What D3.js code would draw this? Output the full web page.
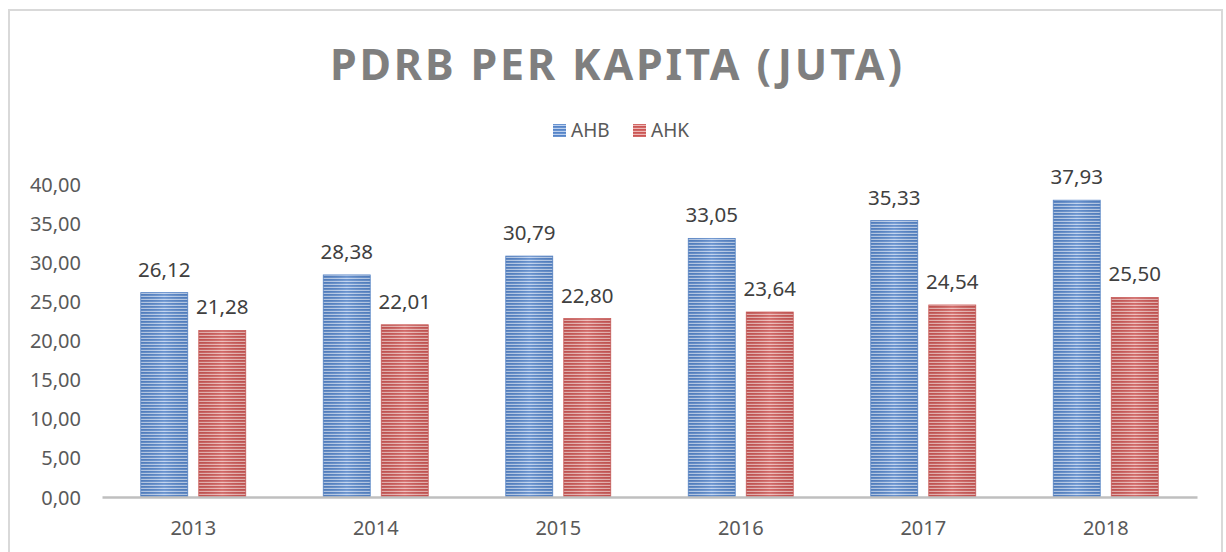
<!DOCTYPE html>
<html>
<head>
<meta charset="utf-8">
<script src="https://cdn.jsdelivr.net/npm/d3@7/dist/d3.min.js"></script>
<style>
  html, body { margin: 0; padding: 0; background: #fff; }
  svg { display: block; font-family: "Noto Sans", "Open Sans", sans-serif; }
</style>
</head>
<body>
<svg id="chart" width="1226" height="552"></svg>
<script>
const categories = ["2013", "2014", "2015", "2016", "2017", "2018"];
const seriesNames = ["AHB", "AHK"];
const ahb = [26.12, 28.38, 30.79, 33.05, 35.33, 37.93];
const ahk = [21.28, 22.01, 22.80, 23.64, 24.54, 25.50];
const yTicks = [0, 5, 10, 15, 20, 25, 30, 35, 40];
const titleText = "PDRB PER KAPITA (JUTA)";

const seriesValues = { AHB: ahb, AHK: ahk };
const colors = {
  AHB: { dark: "#5584c8", light: "#bcd0ee", edge: "#5a87c9" },
  AHK: { dark: "#cb5654", light: "#edb8b6", edge: "#cd5f5c" }
};

const svg = d3.select("#chart");
const fmt = v => v.toFixed(2).replace(".", ",");

// patterns
const defs = svg.append("defs");
seriesNames.forEach(s => {
  const p = defs.append("pattern")
    .attr("id", "pat-" + s)
    .attr("patternUnits", "userSpaceOnUse")
    .attr("width", 4).attr("height", 3);
  p.append("rect").attr("width", 4).attr("height", 3).attr("fill", colors[s].light);
  p.append("rect").attr("width", 4).attr("height", 1.8).attr("fill", colors[s].dark);
  const g = defs.append("linearGradient").attr("id", "sh-" + s)
    .attr("x1", "0").attr("x2", "1").attr("y1", "0").attr("y2", "0");
  g.append("stop").attr("offset", "0").attr("stop-color", "#000").attr("stop-opacity", 0.06);
  g.append("stop").attr("offset", "0.5").attr("stop-color", "#fff").attr("stop-opacity", 0.12);
  g.append("stop").attr("offset", "1").attr("stop-color", "#000").attr("stop-opacity", 0.06);
});

// border
svg.append("rect")
  .attr("x", 9).attr("y", 10).attr("width", 1213).attr("height", 560)
  .attr("fill", "none").attr("stroke", "#d9d9d9").attr("stroke-width", 2);

// title
svg.append("text")
  .attr("x", 330).attr("y", 80)
  .attr("textLength", 572).attr("lengthAdjust", "spacing")
  .attr("font-size", 43).attr("font-weight", "bold")
  .attr("fill", "#7f7f7f")
  .text(titleText);

// scales
const x0 = d3.scaleBand().domain(categories).range([102, 1197]).paddingInner(0).paddingOuter(0);
const x1 = d3.scaleBand().domain(seriesNames).range([-52.5, 52.5]).paddingInner(0.19).paddingOuter(0);
const y = d3.scaleLinear().domain([0, 40]).range([497, 184]);

// y axis labels
const yAxis = d3.axisLeft(y).tickValues(yTicks).tickFormat(fmt).tickSize(0).tickPadding(0);
const yg = svg.append("g").attr("transform", "translate(81,0)").call(yAxis);
yg.select(".domain").remove();
yg.selectAll("text").attr("font-size", 20).attr("fill", "#595959")
  .attr("font-family", "'Noto Sans', 'Open Sans', sans-serif").attr("dy", "0.35em");

// bars
const groups = svg.append("g").selectAll("g").data(categories).join("g")
  .attr("transform", d => `translate(${x0(d) + x0.bandwidth() / 2},0)`);

seriesNames.forEach(s => {
  groups.append("rect")
    .attr("x", x1(s)).attr("width", x1.bandwidth())
    .attr("y", (d, i) => y(seriesValues[s][i]))
    .attr("height", (d, i) => y(0) - y(seriesValues[s][i]))
    .attr("fill", `url(#pat-${s})`)
    .attr("stroke", colors[s].edge).attr("stroke-width", 0.8);
  groups.append("rect")
    .attr("x", x1(s)).attr("width", x1.bandwidth())
    .attr("y", (d, i) => y(seriesValues[s][i]))
    .attr("height", (d, i) => y(0) - y(seriesValues[s][i]))
    .attr("fill", `url(#sh-${s})`);
  groups.append("text")
    .attr("x", x1(s) + x1.bandwidth() / 2)
    .attr("y", (d, i) => y(seriesValues[s][i]) - 16)
    .attr("text-anchor", "middle")
    .attr("font-size", 20.5).attr("fill", "#404040")
    .text((d, i) => fmt(seriesValues[s][i]));
});

// x axis
const xAxis = d3.axisBottom(x0).tickSize(0).tickPadding(0);
const xg = svg.append("g").attr("transform", "translate(0,497)").call(xAxis);
xg.select(".domain").attr("stroke", "#bfbfbf").attr("stroke-width", 2.5);
xg.selectAll("text").attr("font-size", 20).attr("fill", "#595959")
  .attr("font-family", "'Noto Sans', 'Open Sans', sans-serif")
  .attr("dy", null).attr("y", 38);

// legend
const legendItems = [
  { name: "AHB", x: 553, tx: 571 },
  { name: "AHK", x: 633, tx: 651 }
];
const lg = svg.append("g");
legendItems.forEach(it => {
  lg.append("rect").attr("x", it.x).attr("y", 124).attr("width", 13).attr("height", 13)
    .attr("fill", `url(#pat-${it.name})`);
  lg.append("text").attr("x", it.tx).attr("y", 137)
    .attr("font-size", 19).attr("fill", "#595959").text(it.name);
});
</script>
</body>
</html>
